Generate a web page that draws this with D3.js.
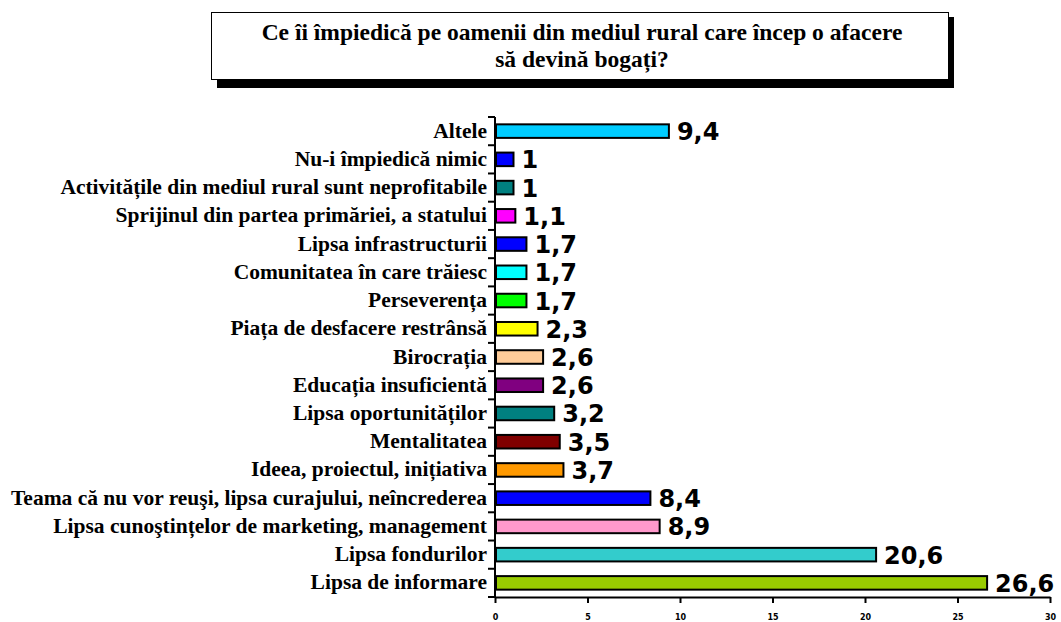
<!DOCTYPE html>
<html>
<head>
<meta charset="utf-8">
<script src="https://cdn.jsdelivr.net/npm/d3@7"></script>
<style>
  body { margin: 0; background: #fff; }
  svg { display: block; }
</style>
</head>
<body>
<div id="plot"></div>
<script>
// data, top to bottom as drawn
const categories = [
  "Altele",
  "Nu-i împiedică nimic",
  "Activitățile din mediul rural sunt neprofitabile",
  "Sprijinul din partea primăriei, a statului",
  "Lipsa infrastructurii",
  "Comunitatea în care trăiesc",
  "Perseverența",
  "Piața de desfacere restrânsă",
  "Birocrația",
  "Educația insuficientă",
  "Lipsa oportunităților",
  "Mentalitatea",
  "Ideea, proiectul, inițiativa",
  "Teama că nu vor reuşi, lipsa curajului, neîncrederea",
  "Lipsa cunoştințelor de marketing, management",
  "Lipsa fondurilor",
  "Lipsa de informare"
];
const values = [9.4, 1, 1, 1.1, 1.7, 1.7, 1.7, 2.3, 2.6, 2.6, 3.2, 3.5, 3.7, 8.4, 8.9, 20.6, 26.6];
const barColors = ["#00ccff", "#0000ff", "#008080", "#ff00ff", "#0000ff", "#00ffff", "#00ff00",
  "#ffff00", "#ffcc99", "#800080", "#008080", "#800000", "#ff9900", "#0000ff", "#ff99cc",
  "#33cccc", "#99cc00"];
const xTicks = [0, 5, 10, 15, 20, 25, 30];
const titleLines = ["Ce îi împiedică pe oamenii din mediul rural care încep o afacere", "să devină bogați?"];

const w = 1061, h = 622;
const plotLeft = 495, plotRight = 1050, plotTop = 117, plotBottom = 597;

const svg = d3.select("#plot").append("svg")
  .attr("width", w)
  .attr("height", h);

//---------------- title box with shadow ----------------
svg.append("rect")
  .attr("x", 217).attr("y", 17)
  .attr("width", 737).attr("height", 71)
  .attr("fill", "#000");
svg.append("rect")
  .attr("x", 211.5).attr("y", 12.5)
  .attr("width", 737).attr("height", 67)
  .attr("fill", "#fff")
  .attr("stroke", "#000")
  .attr("stroke-width", 1);
svg.append("text")
  .attr("text-anchor", "middle")
  .attr("font-family", "'Liberation Serif', 'Times New Roman', serif")
  .attr("font-weight", "bold")
  .attr("font-size", 23.5)
  .selectAll("tspan")
  .data(titleLines)
  .enter().append("tspan")
  .attr("x", 582)
  .attr("y", (d, i) => 40 + i * 27)
  .text(d => d);

//---------------- scales ----------------
const x = d3.scaleLinear().domain([0, 30]).range([plotLeft, plotRight]);
const y = d3.scaleBand().domain(categories).range([plotTop, plotBottom]).paddingInner(0.52).paddingOuter(0.26);

//---------------- bars ----------------
svg.append("g")
  .selectAll("rect")
  .data(values)
  .enter().append("rect")
  .attr("x", x(0) + 1)
  .attr("y", (d, i) => y(categories[i]))
  .attr("width", d => x(d) - x(0) - 1)
  .attr("height", y.bandwidth())
  .attr("fill", (d, i) => barColors[i])
  .attr("stroke", "#000")
  .attr("stroke-width", 2);

// value labels
svg.append("g")
  .selectAll("text")
  .data(values)
  .enter().append("text")
  .attr("x", d => x(d) + 8)
  .attr("y", (d, i) => y(categories[i]) + y.bandwidth() / 2 + 9)
  .attr("font-family", "'DejaVu Sans', Verdana, sans-serif")
  .attr("font-weight", "bold")
  .attr("font-size", 24)
  .text(d => String(d).replace(".", ","));

//---------------- y axis ----------------
const yAxis = svg.append("g");
yAxis.append("line")
  .attr("x1", plotLeft).attr("x2", plotLeft)
  .attr("y1", plotTop).attr("y2", plotBottom)
  .attr("stroke", "#000").attr("stroke-width", 2);
const rowH = (plotBottom - plotTop) / categories.length;
yAxis.selectAll(".ytick")
  .data(d3.range(categories.length + 1))
  .enter().append("line")
  .attr("x1", plotLeft - 7).attr("x2", plotLeft)
  .attr("y1", i => plotTop + i * rowH)
  .attr("y2", i => plotTop + i * rowH)
  .attr("stroke", "#000").attr("stroke-width", 2);
yAxis.selectAll(".ylab")
  .data(categories)
  .enter().append("text")
  .attr("x", plotLeft - 8)
  .attr("y", d => y(d) + y.bandwidth() / 2 + 6.5)
  .attr("text-anchor", "end")
  .attr("font-family", "'Liberation Serif', 'Times New Roman', serif")
  .attr("font-weight", "bold")
  .attr("font-size", 21.5)
  .text(d => d);

//---------------- x axis ----------------
const xAxis = svg.append("g")
  .attr("transform", "translate(0," + plotBottom + ")")
  .call(d3.axisBottom(x).tickValues(xTicks).tickSize(6).tickSizeOuter(0).tickPadding(11));
xAxis.select(".domain").attr("stroke-width", 2);
xAxis.selectAll(".tick line").attr("stroke-width", 2);
xAxis.selectAll(".tick text")
  .attr("font-family", "'DejaVu Sans', Verdana, sans-serif")
  .attr("font-weight", "bold")
  .attr("font-size", 8)
  .attr("fill", "#000");
</script>
</body>
</html>
